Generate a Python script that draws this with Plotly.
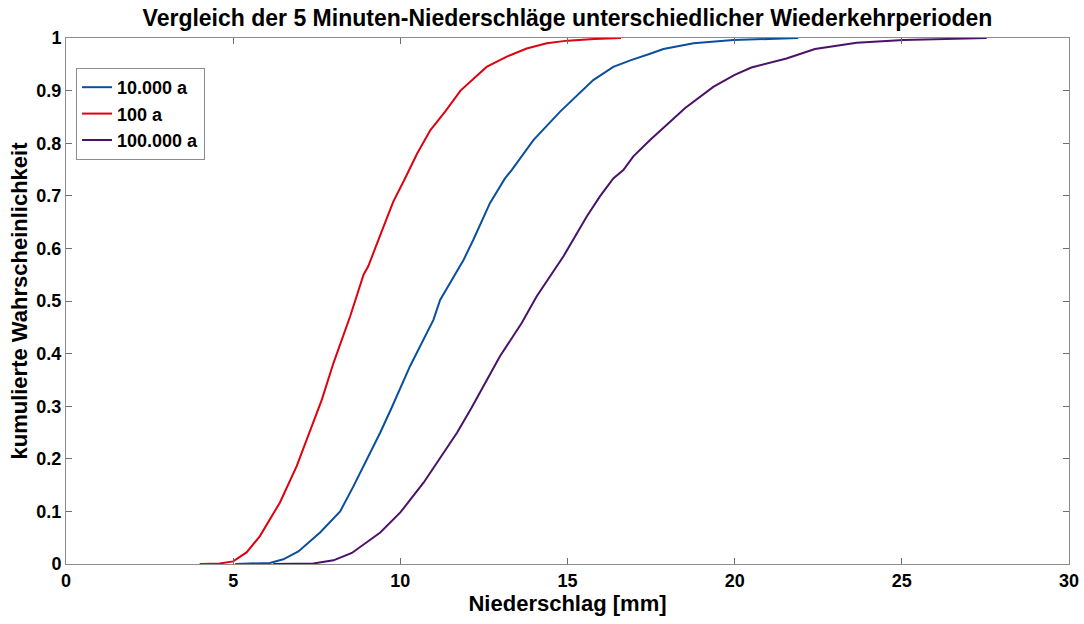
import plotly.graph_objects as go

# 100 a (red)
x_100 = [4.0, 4.6, 5.0, 5.4, 5.8, 6.4, 6.9, 7.3, 7.65, 8.0, 8.5, 8.9, 9.04, 9.44, 9.79, 10.14, 10.5, 10.9,
         11.34, 11.8, 12.14, 12.58, 13.2, 13.78, 14.38, 15.0, 15.8, 16.6]
y_100 = [0, 0.001, 0.005, 0.022, 0.053, 0.117, 0.186, 0.255, 0.312, 0.382, 0.471, 0.55, 0.566, 0.632, 0.689,
         0.733, 0.78, 0.825, 0.86, 0.9, 0.92, 0.945, 0.965, 0.98, 0.99, 0.995, 0.998, 1.0]

# 10.000 a (blue)
x_10000 = [5.06, 6.1, 6.5, 6.95, 7.6, 8.2, 8.6, 9.4, 9.74, 10.29, 10.99, 11.19, 11.89, 12.18, 12.68, 13.13,
           13.33, 13.98, 14.78, 15.77, 16.37, 16.9, 17.47, 17.87, 18.77, 19.96, 21.9]
y_10000 = [0, 0.002, 0.009, 0.024, 0.06, 0.10, 0.148, 0.25, 0.297, 0.376, 0.464, 0.502, 0.578, 0.616, 0.686,
           0.733, 0.749, 0.806, 0.86, 0.92, 0.945, 0.958, 0.97, 0.979, 0.99, 0.996, 1.0]

# 100.000 a (purple)
x_100000 = [6.2, 7.4, 8.0, 8.55, 9.4, 10.0, 10.7, 11.7, 12.13, 12.98, 13.63, 14.08, 14.88, 15.58, 15.97, 16.37,
            16.67, 16.97, 17.47, 18.52, 19.36, 20.0, 20.5, 21.55, 22.4, 23.65, 25.05, 26.85, 27.54]
y_100000 = [0, 0.001, 0.007, 0.021, 0.06, 0.098, 0.155, 0.25, 0.297, 0.395, 0.458, 0.509, 0.585, 0.661, 0.699,
            0.733, 0.749, 0.775, 0.806, 0.867, 0.907, 0.93, 0.944, 0.961, 0.979, 0.991, 0.996, 0.998, 1.0]

x_ticks = [0, 5, 10, 15, 20, 25, 30]
y_ticks = [0, 0.1, 0.2, 0.3, 0.4, 0.5, 0.6, 0.7, 0.8, 0.9, 1]
y_ticklabels = ["0", "0.1", "0.2", "0.3", "0.4", "0.5", "0.6", "0.7", "0.8", "0.9", "1"]

series_names = ["10.000 a", "100 a", "100.000 a"]
series_colors = ["#0a4f9e", "#e0000f", "#4a1268"]

fig = go.Figure()
for name, xs, ys, col in zip(series_names, [x_10000, x_100, x_100000], [y_10000, y_100, y_100000], series_colors):
    fig.add_trace(go.Scatter(x=xs, y=ys, mode="lines", name=name, line=dict(color=col, width=2)))

ff = "Liberation Sans, Arial, sans-serif"
axis_common = dict(
    showline=True, linecolor="#8c8c8c", linewidth=1, mirror="ticks",
    ticks="inside", ticklen=6, tickcolor="#6e6e6e",
    showgrid=False, zeroline=False, automargin=False,
    tickfont=dict(family=ff, size=18, color="black", weight="bold"),
)

fig.update_layout(
    width=1084, height=624,
    margin=dict(l=66, r=15, t=38, b=60),
    paper_bgcolor="white", plot_bgcolor="white",
    title=dict(text="Vergleich der 5 Minuten-Niederschläge unterschiedlicher Wiederkehrperioden",
               x=0.5235, xanchor="center", y=0.971, yanchor="middle",
               font=dict(family=ff, size=23, color="black", weight="bold")),
    xaxis=dict(range=[0, 30], tickvals=x_ticks,
               title=dict(text="Niederschlag [mm]", font=dict(family=ff, size=22, color="black", weight="bold"), standoff=4),
               **axis_common),
    yaxis=dict(range=[0, 1], tickvals=y_ticks, ticktext=y_ticklabels,
               title=dict(text="kumulierte Wahrscheinlichkeit", font=dict(family=ff, size=22, color="black", weight="bold"), standoff=2),
               **axis_common),
    legend=dict(x=0.01, y=0.943, xanchor="left", yanchor="top",
                bgcolor="white", bordercolor="#8c8c8c", borderwidth=1,
                font=dict(family=ff, size=18, color="black", weight="bold"),
                itemwidth=30, tracegroupgap=0),
    showlegend=True,
)

fig.write_html("out.html", config={"displayModeBar": False},
               post_script="document.body.style.margin='0';")
